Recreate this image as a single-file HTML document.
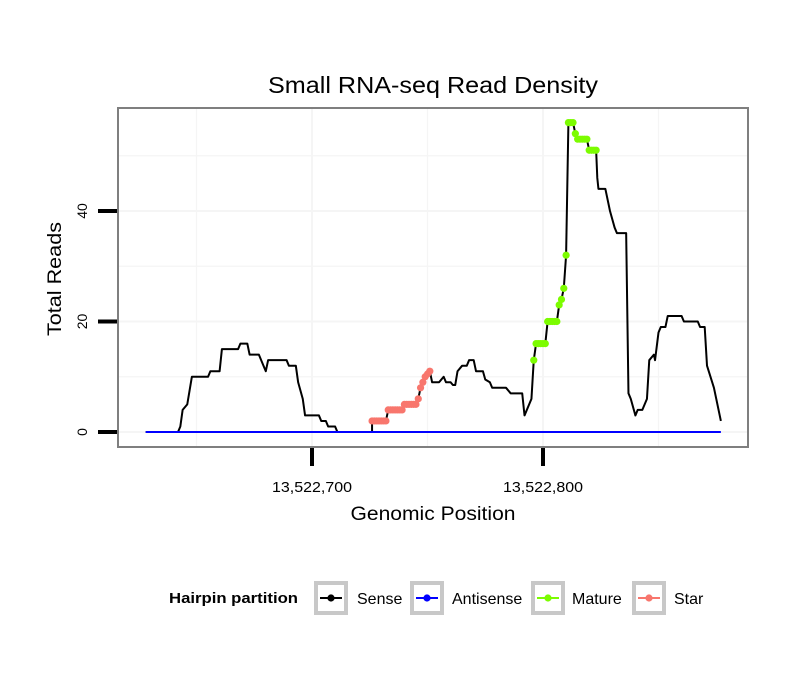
<!DOCTYPE html>
<html><head><meta charset="utf-8"><style>
body{margin:0;background:#fff;}
svg text{font-family:"Liberation Sans",sans-serif;}
</style></head><body>
<svg width="810" height="690" xmlns="http://www.w3.org/2000/svg">
<rect width="810" height="690" fill="#fff"/>
<text x="433" y="93" font-size="23" text-anchor="middle" textLength="330" lengthAdjust="spacingAndGlyphs">Small RNA-seq Read Density</text>
<g id="grid"></g>
<g id="lines"></g>
<rect x="118" y="108" width="630" height="339" fill="none" stroke="#7f7f7f" stroke-width="2"/>
<g id="axes"></g>
<text x="433" y="520" font-size="19" text-anchor="middle" textLength="165" lengthAdjust="spacingAndGlyphs">Genomic Position</text>
<text transform="translate(61,279) rotate(-90)" font-size="19" text-anchor="middle" textLength="114" lengthAdjust="spacingAndGlyphs">Total Reads</text>
<g>
<text x="169" y="603" font-size="15" font-weight="bold" textLength="129" lengthAdjust="spacingAndGlyphs">Hairpin partition</text>
<g id="legend"></g>
</g>
</svg>
<script>
const xTicks=[13522700,13522800];
const xTickLabels=["13,522,700","13,522,800"];
const yTicks=[0,20,40];
const base=13522000;
const sense1Pos=[628,642,643,644,646,648,655,656,660,661,668,669,672,673,677,679,680,681,689,690,693,694,696,697,703,704,706,707,710,711,726];
const sense1Val=[0,0,1,4,5,10,10,11,11,15,15,16,16,14,14,12,11,13,13,12,12,9,6,3,3,2,2,1,1,0,0];
const starPos=[726,727,728,729,730,731,732,733,734,735,736,737,738,739,740,741,742,743,744,745,746,747,748,749,750,751];
const starVal=[2,2,2,2,2,2,2,4,4,4,4,4,4,4,5,5,5,5,5,5,6,8,9,10,10.5,11];
const sense2Pos=[752,755,757,758,760,761,762,763,765,767,768,770,771,774,775,777,778,784,786,791,792,795];
const sense2Val=[9,9,10,9,9,8.5,8.5,11,12,12,13,13,11,11,9.5,9,8,8,7,7,3,6];
const maturePos=[796,797,798,799,800,801,802,803,804,805,806,807,808,809,810,811,812,813,814,815,816,817,818,819,820,821,822,823];
const matureVal=[13,16,16,16,16,16,20,20,20,20,20,23,24,26,32,56,56,56,54,53,53,53,53,53,51,51,51,51];
const sense3Pos=[823.5,824,827,829,831,832,836,837,838,840,841,843,845,846,848,848.5,850,851,853,854,860,861,867,868,870,871,874,875,877];
const sense3Val=[46,44,44,40,37,36,36,7,6,3,4,4,6,13,14,13,18,19,19,21,21,20,20,19,19,12,8,6,2];
const antiPos=[628,877];
const antiVal=[0,0];

const NS="http://www.w3.org/2000/svg";
function X(p){return 312+(p-13522700)*2.31;}
function Y(v){return 432-v*5.525;}
function mk(tag,attrs,parent){const e=document.createElementNS(NS,tag);for(const k in attrs)e.setAttribute(k,attrs[k]);parent.appendChild(e);return e;}
const grid=document.getElementById('grid'),lines=document.getElementById('lines'),axes=document.getElementById('axes');
[...yTicks,10,30,50].forEach(v=>{const l=mk('line',{x1:119,x2:747,y1:Y(v),y2:Y(v),stroke:'#f5f5f5','stroke-width':v%20==0?2:1.2},grid);

});
[13522650,13522700,13522750,13522800,13522850].forEach(p=>{const l=mk('line',{x1:X(p),x2:X(p),y1:109,y2:446,stroke:'#f5f5f5','stroke-width':p%100==0?2:1.2},grid);

});
function path(pos,val,color,w,name){const d=pos.map((p,i)=>(i?'L':'M')+X(base+p).toFixed(2)+','+Y(val[i]).toFixed(2)).join('');
const e=mk('path',{d:d,fill:'none',stroke:color,'stroke-width':w,'stroke-linejoin':'round'},lines);

}
function dots(pos,val,color,name){pos.forEach((p,i)=>{const c=mk('circle',{cx:X(base+p),cy:Y(val[i]),r:3.6,fill:color},lines);

});}
const allPos=[...sense1Pos,...starPos,...sense2Pos,...maturePos,...sense3Pos];
const allVal=[...sense1Val,...starVal,...sense2Val,...matureVal,...sense3Val];
path(allPos,allVal,'#000',2,'sense-line');
path(antiPos,antiVal,'#0000ff',2,'antisense-line');
dots(starPos,starVal,'#f8766d','star-point');
dots(maturePos,matureVal,'#7cfc00','mature-point');
yTicks.forEach(v=>{const t=mk('line',{x1:98,x2:117,y1:Y(v),y2:Y(v),stroke:'#000','stroke-width':4},axes);


const tx=mk('text',{transform:`translate(87,${Y(v)}) rotate(-90)`,'font-size':14,'text-anchor':'middle'},axes);tx.textContent=v;

});
xTicks.forEach((p,i)=>{const t=mk('line',{x1:X(p),x2:X(p),y1:448,y2:466,stroke:'#000','stroke-width':4},axes);


const tx=mk('text',{x:X(p),y:492,'font-size':15,'text-anchor':'middle',textLength:80,lengthAdjust:'spacingAndGlyphs'},axes);tx.textContent=xTickLabels[i];

});
const leg=document.getElementById('legend');
const legNames=['Sense','Antisense','Mature','Star'],legColors=['#000','#0000ff','#7cfc00','#f8766d'],legX=[314,410,531,632],legTx=[357,452,572,674];
legNames.forEach((n,i)=>{const g=mk('g',{},leg);


mk('rect',{x:legX[i]+2,y:583,width:30,height:30,fill:'#fff',stroke:'#c8c8c8','stroke-width':4},g);
mk('line',{x1:legX[i]+6,x2:legX[i]+28,y1:598,y2:598,stroke:legColors[i],'stroke-width':2},g);
mk('circle',{cx:legX[i]+17,cy:598,r:3.6,fill:legColors[i]},g);
const t=mk('text',{x:legTx[i],y:604,'font-size':16},g);t.textContent=n;});
</script>
</body></html>
